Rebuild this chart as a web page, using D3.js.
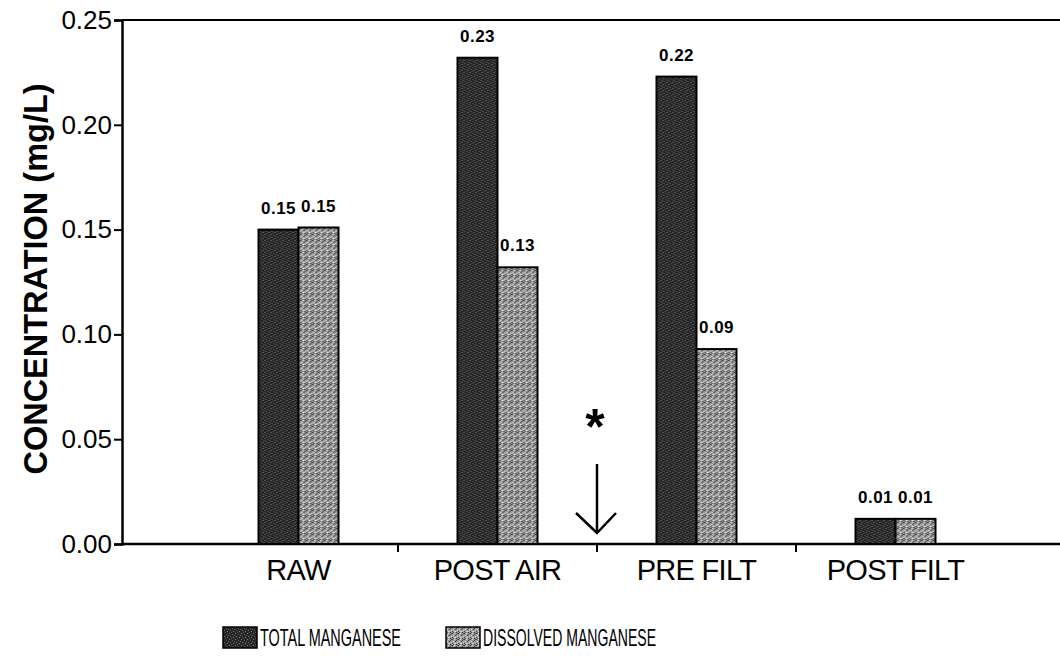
<!DOCTYPE html>
<html>
<head>
<meta charset="utf-8">
<script src="https://cdn.jsdelivr.net/npm/d3@7/dist/d3.min.js"></script>
<style>
  html, body { margin: 0; padding: 0; background: #fff; }
  svg { display: block; font-family: "Liberation Sans", Arial, Helvetica, sans-serif; }
</style>
</head>
<body>
<svg id="chart" width="1060" height="660"></svg>
<script>
// Manganese concentration at each treatment stage
const stages = ["RAW", "POST AIR", "PRE FILT", "POST FILT"];
const seriesNames = ["TOTAL MANGANESE", "DISSOLVED MANGANESE"];
const totalMn = [0.150, 0.232, 0.223, 0.012];
const dissolvedMn = [0.151, 0.132, 0.093, 0.012];
const yTicks = [0.00, 0.05, 0.10, 0.15, 0.20, 0.25];

const svg = d3.select("#chart");
const axisLeft = 122, axisRight = 1060;
const yTop = 20, yBottom = 544;

const y = d3.scaleLinear().domain([0, 0.25]).range([yBottom, yTop]);
const x = d3.scaleBand().domain(stages).range([199, 995]).paddingInner(0).paddingOuter(0);
const sub = d3.scaleBand().domain(seriesNames).range([0, 80]);
const barOffset = (x.bandwidth() - 80) / 2;

// Stippled fills for the two series
const defs = svg.append("defs");
function stipple(id, base, dots) {
  const p = defs.append("pattern").attr("id", id)
    .attr("patternUnits", "userSpaceOnUse").attr("width", 6).attr("height", 6);
  p.append("rect").attr("width", 6).attr("height", 6).attr("fill", base);
  dots.forEach(([cx, cy, c]) => p.append("rect").attr("x", cx).attr("y", cy)
    .attr("width", 1).attr("height", 1).attr("fill", c));
}
stipple("texTotal", "#262626", [[0,0,"#7a7a7a"],[3,1,"#5a5a5a"],[1,3,"#6a6a6a"],[4,4,"#808080"],[2,5,"#555"],[5,2,"#666"]]);
stipple("texDiss", "#9a9a9a", [[0,0,"#333"],[2,0,"#ddd"],[4,1,"#444"],[1,2,"#e0e0e0"],[3,2,"#3a3a3a"],[5,3,"#d8d8d8"],[0,4,"#444"],[2,4,"#cfcfcf"],[4,5,"#333"],[1,5,"#555"],[3,4,"#e6e6e6"],[5,0,"#505050"]]);
const fills = { "TOTAL MANGANESE": "url(#texTotal)", "DISSOLVED MANGANESE": "url(#texDiss)" };

// Frame: top rule
svg.append("line").attr("x1", axisLeft).attr("x2", axisRight).attr("y1", yTop).attr("y2", yTop)
  .attr("stroke", "#000").attr("stroke-width", 2);

// Y axis
const yAxis = d3.axisLeft(y).tickValues(yTicks).tickFormat(d3.format(".2f")).tickSize(8).tickPadding(2);
const gy = svg.append("g").attr("transform", `translate(${axisLeft},0)`).call(yAxis);
gy.select(".domain").attr("stroke-width", 2.5);
gy.selectAll(".tick line").attr("stroke-width", 2);
gy.selectAll(".tick text").attr("font-size", 26).attr("fill", "#000")
  .attr("font-family", "Liberation Sans, Arial, sans-serif");

// X axis line with separators between stages
svg.append("line").attr("x1", axisLeft).attr("x2", axisRight).attr("y1", yBottom).attr("y2", yBottom)
  .attr("stroke", "#000").attr("stroke-width", 2.5);
const separators = stages.slice(1).map(s => x(s));
svg.selectAll(".sep").data(separators).join("line").attr("class", "sep")
  .attr("x1", d => d).attr("x2", d => d).attr("y1", yBottom).attr("y2", yBottom + 8)
  .attr("stroke", "#000").attr("stroke-width", 2);

// Stage labels
svg.selectAll(".cat").data(stages).join("text").attr("class", "cat")
  .attr("x", d => x(d) + x.bandwidth() / 2).attr("y", 580)
  .attr("text-anchor", "middle").attr("font-size", 29).attr("letter-spacing", "-0.7px")
  .text(d => d);

// Bars
const rows = stages.map((s, i) => ({ stage: s, values: [
  { series: seriesNames[0], value: totalMn[i] },
  { series: seriesNames[1], value: dissolvedMn[i] } ] }));

const groups = svg.selectAll(".grp").data(rows).join("g").attr("class", "grp")
  .attr("transform", d => `translate(${x(d.stage) + barOffset},0)`);

groups.selectAll("rect").data(d => d.values).join("rect")
  .attr("x", d => sub(d.series)).attr("width", sub.bandwidth())
  .attr("y", d => y(d.value)).attr("height", d => y(0) - y(d.value))
  .attr("fill", d => fills[d.series]).attr("stroke", "#000").attr("stroke-width", 2);

groups.selectAll("text").data(d => d.values).join("text")
  .attr("x", d => sub(d.series) + sub.bandwidth() / 2).attr("y", d => y(d.value) - 16)
  .attr("text-anchor", "middle").attr("font-size", 17).attr("font-weight", "bold")
  .attr("letter-spacing", "0.5px")
  .text(d => d3.format(".2f")(d.value));

// Marker between POST AIR and PRE FILT
const mx = x("PRE FILT");
svg.append("text").attr("x", mx - 2).attr("y", 444).attr("text-anchor", "middle")
  .attr("font-size", 50).attr("font-weight", "bold").text("*");
svg.append("line").attr("x1", mx).attr("x2", mx).attr("y1", 464).attr("y2", 532)
  .attr("stroke", "#000").attr("stroke-width", 2.5);
svg.append("path").attr("d", `M${mx - 21},513 L${mx},533 L${mx + 19},513`)
  .attr("fill", "none").attr("stroke", "#000").attr("stroke-width", 2.5);

// Y axis title
svg.append("text").attr("transform", `translate(47,279) rotate(-90)`)
  .attr("text-anchor", "middle").attr("font-size", 32.5).attr("font-weight", "bold")
  .text("CONCENTRATION (mg/L)");

// Legend
const legendX = [223, 446];
const legendTextW = [141, 173];
const lg = svg.selectAll(".lg").data(seriesNames).join("g").attr("class", "lg")
  .attr("transform", (d, i) => `translate(${legendX[i]},627)`);
lg.append("rect").attr("width", 34).attr("height", 21).attr("fill", d => fills[d])
  .attr("stroke", "#000").attr("stroke-width", 1.5);
lg.append("text").attr("x", 37).attr("y", 19).attr("font-size", 24)
  .attr("textLength", (d, i) => legendTextW[i]).attr("lengthAdjust", "spacingAndGlyphs")
  .text(d => d);
</script>
</body>
</html>
